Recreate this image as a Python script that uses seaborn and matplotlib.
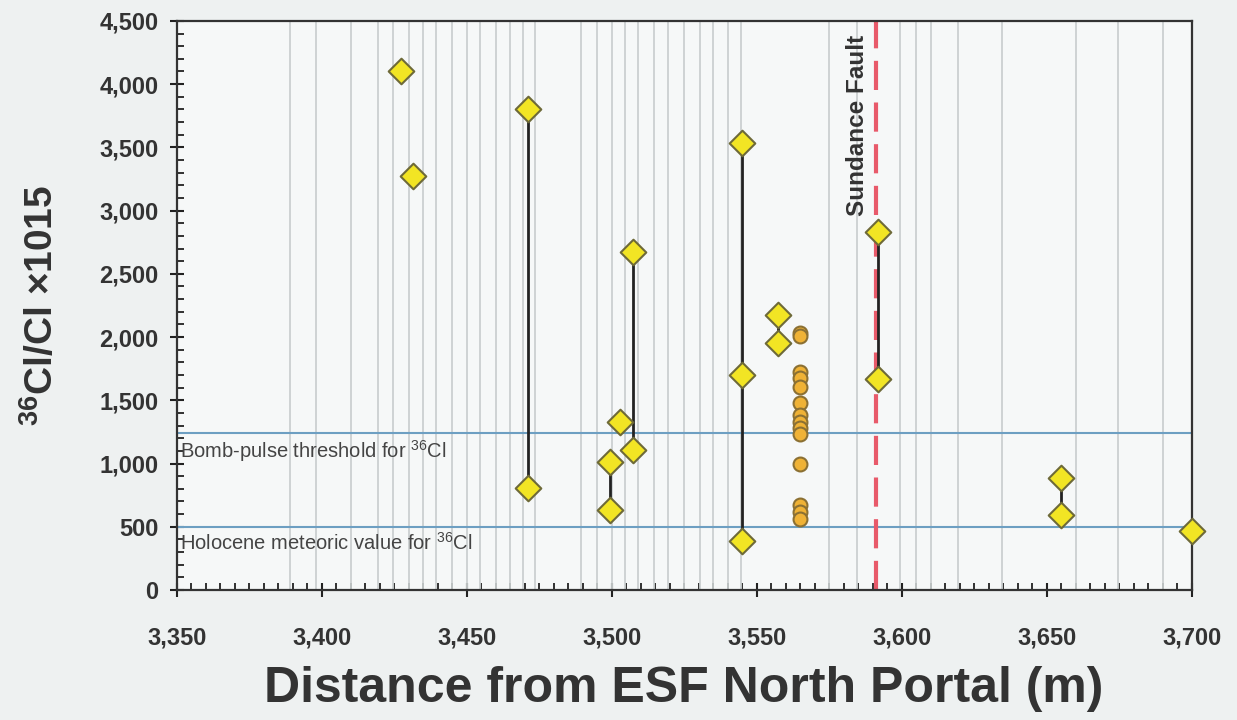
import numpy as np
import pandas as pd
import matplotlib
matplotlib.use("Agg")
import matplotlib.pyplot as plt
import seaborn as sns
from matplotlib.ticker import MultipleLocator, FuncFormatter

sns.set_theme(style="white")
plt.rcParams["font.family"] = ["Liberation Sans", "DejaVu Sans"]
plt.rcParams["mathtext.default"] = "regular"

# sample stations along the tunnel (thin grey gridlines)
stations = [3389, 3398, 3410, 3419.5, 3424.5, 3430, 3435, 3439.5, 3445, 3450,
            3454.5, 3460, 3465, 3469.5, 3473.5, 3489.5, 3495, 3500, 3504.5,
            3509, 3514.5, 3519.5, 3525, 3530.5, 3535, 3540, 3544.5, 3575,
            3584.5, 3599.5, 3605, 3610, 3619.5, 3634.5, 3660, 3674.5, 3690]

# diamond samples
diamond_x = [3427.5, 3431.5, 3471, 3471, 3499.5, 3499.5, 3503, 3507.5, 3507.5,
             3545, 3545, 3545, 3557.5, 3557.5, 3592, 3592, 3655, 3655, 3700]
diamond_y = [4100, 3270, 3800, 805, 1010, 630, 1330, 2675, 1105,
             3535, 1700, 385, 2175, 1950, 2830, 1670, 885, 590, 465]

# circle samples (one station)
circle_x = [3565] * 14
circle_y = [2035, 2005, 1725, 1675, 1608, 1477, 1384, 1331, 1279, 1234,
            1000, 670, 618, 565]

bomb_pulse = 1240
holocene = 500
fault_x = 3591.3

dia = pd.DataFrame({"dist": diamond_x, "ratio": diamond_y})
circ = pd.DataFrame({"dist": circle_x, "ratio": circle_y})

fig = plt.figure(figsize=(12.37, 7.2), dpi=100, facecolor="#eef1f1")
ax = fig.add_axes([0.1428, 0.1806, 0.8205, 0.7904])
ax.set_facecolor("#f6f8f8")

for s in stations:
    ax.axvline(s, color="#cbd0d1", lw=1.3, zorder=1)

ax.axhline(bomb_pulse, color="#6d9fc2", lw=1.5, zorder=2)
ax.axhline(holocene, color="#6d9fc2", lw=1.5, zorder=2)
ax.axvline(fault_x, color="#e85a6a", lw=3, dashes=(7, 3), zorder=2)

# connect multiple samples at the same station
for x, g in dia.groupby("dist"):
    if len(g) > 1:
        ax.vlines(x, g["ratio"].min(), g["ratio"].max(), color="#222222", lw=2, zorder=3)

sns.scatterplot(data=circ, x="dist", y="ratio", ax=ax, marker="o", s=100,
                color="#efb236", edgecolor="#8b7033", linewidth=1.5, zorder=4)
sns.scatterplot(data=dia, x="dist", y="ratio", ax=ax, marker="D", s=170,
                color="#f2e524", edgecolor="#6e6a38", linewidth=1.5, zorder=5,
                clip_on=False)

ax.text(3351, bomb_pulse - 40, "Bomb-pulse threshold for $^{36}$Cl", fontsize=14.5,
        color="#444444", va="top", ha="left", zorder=6)
ax.text(3351, holocene - 40, "Holocene meteoric value for $^{36}$Cl", fontsize=14.5,
        color="#444444", va="top", ha="left", zorder=6)
ax.text(fault_x - 2.5, 4390, "Sundance Fault", rotation=90, fontsize=17.5,
        fontweight="bold", color="#333333", ha="right", va="top", zorder=6)

ax.set_xlim(3350, 3700)
ax.set_ylim(0, 4500)
ax.xaxis.set_major_locator(MultipleLocator(50))
ax.xaxis.set_minor_locator(MultipleLocator(5))
ax.yaxis.set_major_locator(MultipleLocator(500))
ax.yaxis.set_minor_locator(MultipleLocator(100))
fmt = FuncFormatter(lambda v, p: f"{int(v):,}")
ax.xaxis.set_major_formatter(fmt)
ax.yaxis.set_major_formatter(fmt)

ax.tick_params(which="major", direction="inout", length=10, width=1.5, color="#222222",
               labelsize=17, labelcolor="#333333", bottom=True, left=True)
ax.tick_params(axis="x", which="major", pad=21)
ax.tick_params(axis="y", which="major", pad=8)
ax.tick_params(which="minor", direction="in", length=5, width=1.3, color="#222222",
               bottom=True, left=True)
for lab in ax.get_xticklabels() + ax.get_yticklabels():
    lab.set_fontweight("bold")

for sp in ax.spines.values():
    sp.set_color("#333333")
    sp.set_linewidth(1.6)

ax.set_xlabel("Distance from ESF North Portal (m)", fontsize=36, fontweight="bold",
              color="#333333", labelpad=12)
ax.set_ylabel("$^{36}$Cl/Cl ×1015", fontsize=28, fontweight="bold",
              color="#333333", labelpad=28)
ax.grid(False)

fig.savefig("out.png", dpi=100, facecolor=fig.get_facecolor())
